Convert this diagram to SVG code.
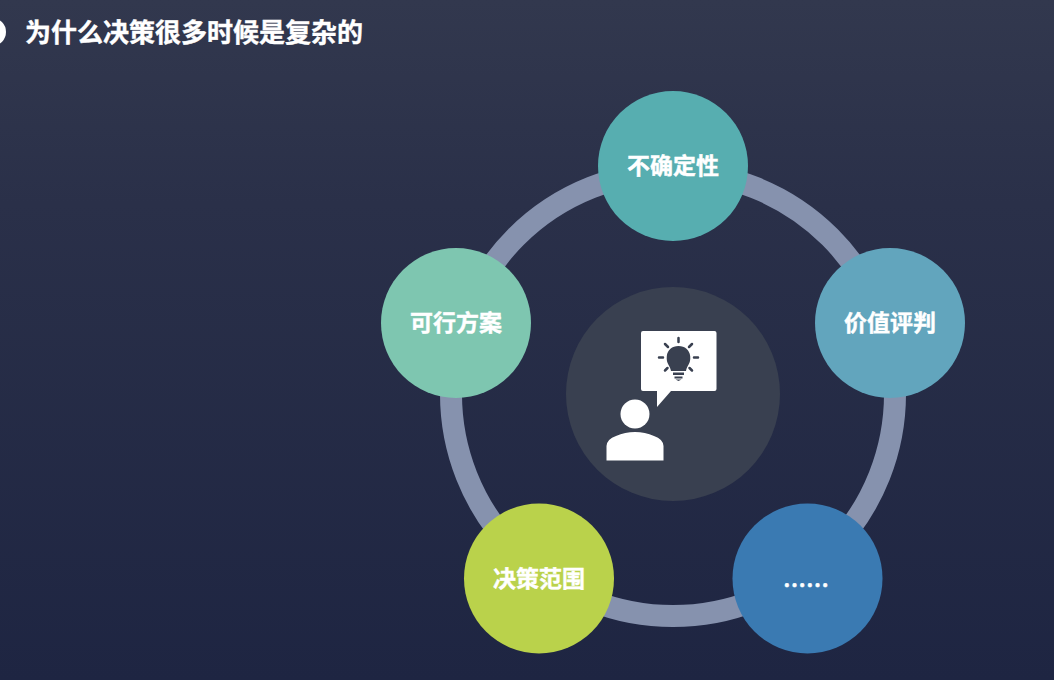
<svg xmlns="http://www.w3.org/2000/svg" width="1054" height="680" viewBox="0 0 1054 680">
<defs>
<linearGradient id="bg" x1="0" y1="0" x2="0" y2="1"><stop offset="0" stop-color="#32384e"/><stop offset="0.3" stop-color="#2a3049"/><stop offset="1" stop-color="#1e2542"/></linearGradient>
</defs>
<style>
text{font-family:"Noto Sans CJK SC","Liberation Sans",sans-serif;font-weight:700;fill:#fff;stroke:#fff;stroke-width:.4px}
.l{font-size:23px;text-anchor:middle}
.k{stroke:#394050;stroke-width:2.500;stroke-linecap:round;fill:none}
</style>
<rect width="1054" height="680" fill="url(#bg)"/>
<g id="title">
<circle cx="-8" cy="32" r="14" fill="#fff"/>
<text x="25" y="42" font-size="26">为什么决策很多时候是复杂的</text>
</g>
<g id="connectors">
<circle cx="673" cy="394" r="222" fill="none" stroke="#8692ae" stroke-width="22"/>
</g>
<g id="center">
<circle cx="673" cy="394" r="107" fill="#394050"/>
<path fill="#fff" d="M643 331H714.500Q716.500 331 716.500 333V389Q716.500 391 714.500 391H671L657 407V391H643Q641 391 641 389V333Q641 331 643 331Z"/>
<circle cx="635" cy="414" r="14.500" fill="#fff"/>
<path fill="#fff" d="M606.500 460.500V446Q607 439 616 436Q625 432 635 432Q645 432 654 436Q663 439 663.500 446V460.500Z"/>
<path fill="#394050" d="M671 371C670 365 666 364 666.800 356C667.500 350 672 346 678.500 346C685 346 689.500 350 690.200 356C691 364 687 365 686 371Z"/>
<path fill="#394050" d="M673 372.500H684V375H673ZM674.500 376.500H682.500V378.500H674.500ZM675.500 379.500H681.500L678.500 381Z"/>
<path class="k" d="M678.500 338V342M665 344L668 347M692 344L689 347M659 357.500H663M694 357.500H698M665 370.500L667.500 368M692 370.500L689.500 368"/>
</g>
<g id="node-top"><circle cx="673" cy="166" r="75" fill="#57aeb0"/><text class="l" x="673" y="174">不确定性</text></g>
<g id="node-right"><circle cx="890" cy="323" r="75" fill="#62a5bd"/><text class="l" x="890" y="331">价值评判</text></g>
<g id="node-bottom-right"><circle cx="807.500" cy="578.500" r="75" fill="#3a7ab2"/><text class="l" x="806" y="594">……</text></g>
<g id="node-bottom-left"><circle cx="539" cy="578.500" r="75" fill="#bad24b"/><text class="l" x="539" y="587">决策范围</text></g>
<g id="node-left"><circle cx="456" cy="323" r="75" fill="#7ec6b0"/><text class="l" x="456" y="331">可行方案</text></g>
</svg>
